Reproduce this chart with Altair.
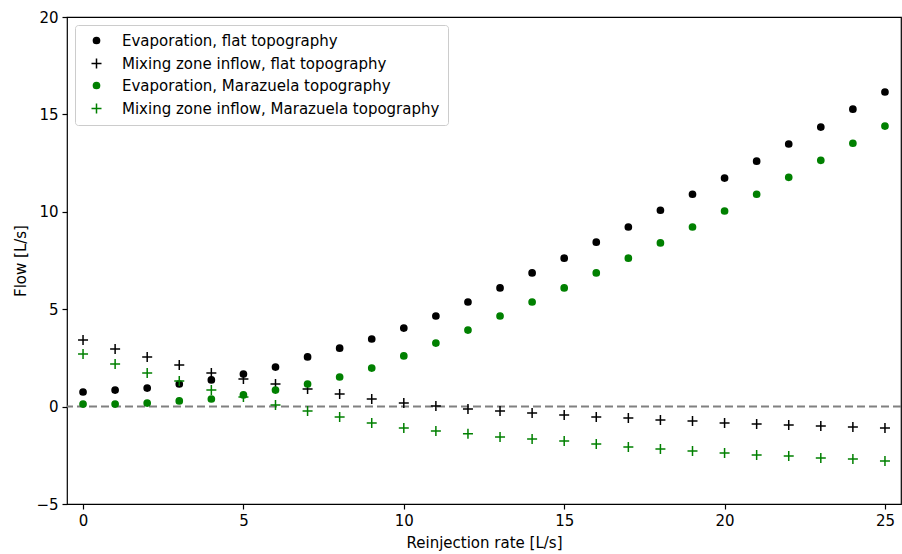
import altair as alt
import pandas as pd

rate = list(range(26))
evap_flat = [0.75, 0.85, 0.95, 1.16, 1.37, 1.67, 2.03, 2.55, 3.0, 3.47, 4.03, 4.65, 5.37,
             6.09, 6.86, 7.62, 8.44, 9.22, 10.08, 10.9, 11.73, 12.6, 13.48, 14.35, 15.27, 16.15]
mix_flat = [3.42, 2.96, 2.55, 2.14, 1.73, 1.42, 1.16, 0.9, 0.65, 0.39, 0.18, 0.03, -0.12,
            -0.23, -0.33, -0.43, -0.53, -0.59, -0.69, -0.74, -0.84, -0.89, -0.94, -1.0, -1.05, -1.1]
evap_mar = [0.13, 0.13, 0.18, 0.29, 0.39, 0.6, 0.85, 1.16, 1.52, 1.98, 2.6, 3.26, 3.93,
            4.65, 5.37, 6.09, 6.86, 7.62, 8.4, 9.22, 10.04, 10.9, 11.77, 12.64, 13.52, 14.4]
mix_mar = [2.7, 2.19, 1.73, 1.31, 0.85, 0.49, 0.08, -0.23, -0.53, -0.84, -1.1, -1.25, -1.4,
           -1.56, -1.66, -1.77, -1.92, -2.07, -2.18, -2.28, -2.38, -2.49, -2.54, -2.64, -2.69, -2.79]

labels = ["Evaporation, flat topography",
          "Mixing zone inflow, flat topography",
          "Evaporation, Marazuela topography",
          "Mixing zone inflow, Marazuela topography"]
series = [evap_flat, mix_flat, evap_mar, mix_mar]

rows = []
for lab, vals in zip(labels, series):
    for r, v in zip(rate, vals):
        rows.append({"rate": r, "flow": v, "series": lab})
df = pd.DataFrame(rows)

plus = "M-1,0L1,0M0,-1L0,1"
dot = "M-0.62,0A0.62,0.62 0 1,0 0.62,0A0.62,0.62 0 1,0 -0.62,0Z"
font = "DejaVu Sans"
colors = ["black", "black", "green", "green"]

x = alt.X("rate:Q", title="Reinjection rate [L/s]",
          scale=alt.Scale(domain=[-0.5, 25.5], nice=False, zero=False),
          axis=alt.Axis(values=[0, 5, 10, 15, 20, 25], grid=False))
y = alt.Y("flow:Q", title="Flow [L/s]",
          scale=alt.Scale(domain=[-5, 20], nice=False),
          axis=alt.Axis(values=[-5, 0, 5, 10, 15, 20], grid=False))

points = alt.Chart(df).mark_point(filled=True, strokeWidth=1.5, opacity=1, size=100).encode(
    x=x, y=y,
    color=alt.Color("series:N", scale=alt.Scale(domain=labels, range=colors), title=None),
    stroke=alt.Stroke("series:N", scale=alt.Scale(domain=labels, range=colors), title=None),
    shape=alt.Shape("series:N", scale=alt.Scale(domain=labels,
                    range=[dot, plus, dot, plus]), title=None),
)

zero_df = pd.DataFrame({"y0": [0]})
zero = alt.Chart(zero_df).mark_rule(color="#808080", strokeWidth=2,
                                     strokeDash=[8, 4]).encode(y="y0:Q")

chart = alt.layer(zero, points).properties(
    width=834, height=487,
    padding={"left": 67, "top": 17, "right": 1, "bottom": 50},
    autosize=alt.AutoSizeParams(type="none"),
).configure_view(
    stroke="black", strokeWidth=1.2
).configure_axis(
    labelFont=font, titleFont=font, labelFontSize=15, titleFontSize=15,
    labelColor="black", titleColor="black", titleFontWeight="normal",
    domain=False, tickColor="black", tickSize=5, tickWidth=1.2,
    labelPadding=4,
).configure_axisX(titlePadding=7).configure_axisY(titlePadding=7).configure_legend(
    orient="none", legendX=8, legendY=8,
    labelFont=font, labelFontSize=15, labelColor="black", labelLimit=0,
    strokeColor="#cccccc", fillColor="white", cornerRadius=3,
    padding=8, rowPadding=6, symbolOffset=6, labelOffset=18,
    symbolStrokeWidth=1.5, symbolSize=100,
)

chart.save("out.html", embed_options={"renderer": "svg", "actions": False})
